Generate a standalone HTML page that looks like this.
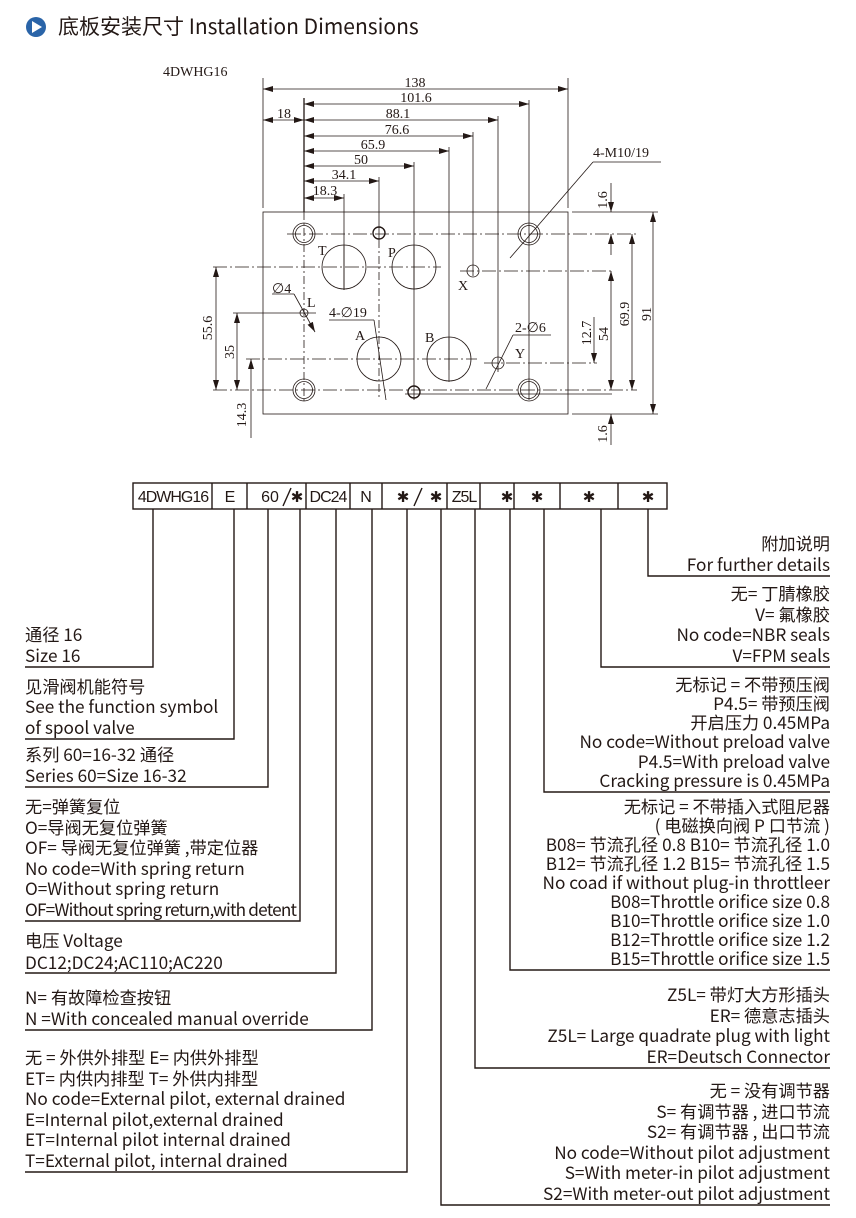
<!DOCTYPE html>
<html><head><meta charset="utf-8"><style>
body{margin:0;width:856px;height:1218px;background:#fff;position:relative;overflow:hidden;font-family:"Noto Sans CJK SC","Liberation Sans",sans-serif;color:#231815}
.b{position:absolute;font-size:17.2px;line-height:20.5px;white-space:nowrap}
.l{left:25px}
.r{right:26px;text-align:right}
svg{position:absolute;left:0;top:0}
</style></head><body>
<svg width="856" height="1218" viewBox="0 0 856 1218">
<defs>
<marker id="a" viewBox="0 0 10 6" refX="10" refY="3" markerWidth="10" markerHeight="6" orient="auto-start-reverse" markerUnits="userSpaceOnUse"><path d="M0,0 L10,3 L0,6 z" fill="#231815"/></marker>
</defs>
<circle cx="36" cy="27" r="10" fill="#2a64a8"/>
<path d="M32,21 L42,27 L32,33 z" fill="#fff"/>
<text x="58" y="34" font-size="21" font-family="Noto Sans CJK SC,Liberation Sans,sans-serif" fill="#231815">底板安装尺寸 Installation Dimensions</text>

<g font-family="Liberation Serif,serif" font-size="14" fill="#231815" stroke="none">
<text x="163" y="76">4DWHG16</text>
<text x="415" y="87" text-anchor="middle">138</text>
<text x="416" y="102" text-anchor="middle">101.6</text>
<text x="284" y="118" text-anchor="middle">18</text>
<text x="398" y="118" text-anchor="middle">88.1</text>
<text x="397" y="134" text-anchor="middle">76.6</text>
<text x="373" y="149" text-anchor="middle">65.9</text>
<text x="361" y="164" text-anchor="middle">50</text>
<text x="344" y="179" text-anchor="middle">34.1</text>
<text x="325" y="195" text-anchor="middle">18.3</text>
<text x="593" y="157">4-M10/19</text>
<text x="318" y="255">T</text>
<text x="388" y="257">P</text>
<text x="458" y="290">X</text>
<text x="272" y="293">∅4</text>
<text x="307" y="307">L</text>
<text x="329" y="317">4-∅19</text>
<text x="355" y="340">A</text>
<text x="425" y="342">B</text>
<text x="515" y="332">2-∅6</text>
<text x="515" y="358">Y</text>
<text transform="translate(212,328) rotate(-90)" text-anchor="middle">55.6</text>
<text transform="translate(234,352) rotate(-90)" text-anchor="middle">35</text>
<text transform="translate(246,415) rotate(-90)" text-anchor="middle">14.3</text>
<text transform="translate(607,200) rotate(-90)" text-anchor="middle">1.6</text>
<text transform="translate(591,333) rotate(-90)" text-anchor="middle">12.7</text>
<text transform="translate(608,334) rotate(-90)" text-anchor="middle">54</text>
<text transform="translate(629,314) rotate(-90)" text-anchor="middle">69.9</text>
<text transform="translate(651,314) rotate(-90)" text-anchor="middle">91</text>
<text transform="translate(607,434) rotate(-90)" text-anchor="middle">1.6</text>
</g>

<g stroke="#231815" stroke-width="0.8" fill="none">
<rect x="263" y="212" width="305" height="202"/>
<line x1="263" y1="78" x2="263" y2="208"/>
<line x1="568" y1="78" x2="568" y2="208"/>
<line x1="304" y1="98" x2="304" y2="212" stroke-width="1.3"/>
<line x1="263" y1="89" x2="568" y2="89" marker-start="url(#a)" marker-end="url(#a)"/>
<line x1="304" y1="104" x2="529" y2="104" marker-start="url(#a)" marker-end="url(#a)"/>
<line x1="263" y1="120" x2="304" y2="120" marker-start="url(#a)" marker-end="url(#a)"/>
<line x1="304" y1="120" x2="498" y2="120" marker-start="url(#a)" marker-end="url(#a)"/>
<line x1="304" y1="136" x2="473" y2="136" marker-start="url(#a)" marker-end="url(#a)"/>
<line x1="304" y1="151" x2="449" y2="151" marker-start="url(#a)" marker-end="url(#a)"/>
<line x1="304" y1="166" x2="414" y2="166" marker-start="url(#a)" marker-end="url(#a)"/>
<line x1="304" y1="181" x2="379" y2="181" marker-start="url(#a)" marker-end="url(#a)"/>
<line x1="304" y1="198" x2="344" y2="198" marker-start="url(#a)" marker-end="url(#a)"/>
<line x1="529" y1="100" x2="529" y2="400"/>
<line x1="498" y1="116" x2="498" y2="372"/>
<line x1="473" y1="132" x2="473" y2="276"/>
<line x1="449" y1="147" x2="449" y2="370"/>
<line x1="414" y1="162" x2="414" y2="400"/>
<line x1="379" y1="177" x2="379" y2="240"/>
<line x1="344" y1="194" x2="344" y2="290"/>
<line x1="304" y1="212" x2="304" y2="403" stroke-dasharray="8,3,2,3"/>
<line x1="379" y1="240" x2="379" y2="400" stroke-dasharray="8,3,2,3"/>
<line x1="287" y1="234" x2="637" y2="234" stroke-dasharray="14,3,2,3"/>
<line x1="213" y1="267" x2="441" y2="267" stroke-dasharray="14,3,2,3"/>
<line x1="460" y1="271" x2="612" y2="271" stroke-dasharray="14,3,2,3"/>
<line x1="233" y1="313" x2="316" y2="313"/>
<line x1="246" y1="359" x2="477" y2="359" stroke-dasharray="14,3,2,3"/>
<line x1="484" y1="363" x2="597" y2="363" stroke-dasharray="14,3,2,3"/>
<line x1="213" y1="390" x2="637" y2="390" stroke-dasharray="14,3,2,3"/>
<line x1="405" y1="394" x2="612" y2="394"/>
<line x1="572" y1="212" x2="658" y2="212"/>
<line x1="572" y1="414" x2="658" y2="414"/>
<circle cx="304" cy="234" r="11"/><circle cx="304" cy="234" r="8.5"/>
<circle cx="529" cy="234" r="11"/><circle cx="529" cy="234" r="8.5"/>
<circle cx="304" cy="390" r="11"/><circle cx="304" cy="390" r="8.5"/>
<circle cx="529" cy="390" r="11"/><circle cx="529" cy="390" r="8.5"/>
<circle cx="379" cy="233" r="6" stroke-width="1.4"/>
<circle cx="414" cy="392" r="6" stroke-width="1.4"/>
<circle cx="344" cy="267" r="22"/>
<circle cx="414" cy="267" r="22"/>
<circle cx="379" cy="359" r="22"/>
<circle cx="449" cy="359" r="22"/>
<circle cx="473" cy="271" r="6"/>
<circle cx="498" cy="363" r="6"/>
<circle cx="304" cy="313" r="4"/>
<line x1="344" y1="245" x2="344" y2="290"/>
<line x1="414" y1="245" x2="414" y2="290"/>
<line x1="449" y1="337" x2="449" y2="382"/>
<line x1="272" y1="294" x2="294" y2="294"/>
<line x1="294" y1="294" x2="315" y2="332" marker-end="url(#a)"/>
<line x1="329" y1="320" x2="374" y2="320"/>
<line x1="374" y1="320" x2="386" y2="400"/>
<line x1="513" y1="335" x2="551" y2="335"/>
<line x1="513" y1="335" x2="486" y2="389"/>
<line x1="593" y1="162" x2="661" y2="162"/>
<line x1="593" y1="162" x2="510" y2="258"/>
<line x1="653" y1="212" x2="653" y2="414" marker-start="url(#a)" marker-end="url(#a)"/>
<line x1="632" y1="234" x2="632" y2="390" marker-start="url(#a)" marker-end="url(#a)"/>
<line x1="611" y1="271" x2="611" y2="390" marker-start="url(#a)" marker-end="url(#a)"/>
<line x1="594" y1="317" x2="594" y2="363" marker-end="url(#a)"/>
<line x1="611" y1="183" x2="611" y2="212" marker-end="url(#a)"/>
<line x1="611" y1="255" x2="611" y2="234" marker-end="url(#a)"/>
<line x1="611" y1="445" x2="611" y2="414" marker-end="url(#a)"/>
<line x1="216" y1="267" x2="216" y2="390" marker-start="url(#a)" marker-end="url(#a)"/>
<line x1="237" y1="313" x2="237" y2="390" marker-start="url(#a)" marker-end="url(#a)"/>
<line x1="251" y1="438" x2="251" y2="359" marker-end="url(#a)"/>
</g>

<g stroke="#231815" stroke-width="1.4" fill="none">
<rect x="133" y="483" width="534" height="26"/>
<line x1="212" y1="483" x2="212" y2="509"/><line x1="247" y1="483" x2="247" y2="509"/>
<line x1="306" y1="483" x2="306" y2="509"/><line x1="350" y1="483" x2="350" y2="509"/>
<line x1="382" y1="483" x2="382" y2="509"/><line x1="447" y1="483" x2="447" y2="509"/>
<line x1="480" y1="483" x2="480" y2="509"/><line x1="514" y1="483" x2="514" y2="509"/>
<line x1="560" y1="483" x2="560" y2="509"/><line x1="618" y1="483" x2="618" y2="509"/>
<line x1="283" y1="506" x2="291" y2="488"/><line x1="414" y1="506" x2="422" y2="488"/>
<polyline points="153,509 153,667 25,667"/>
<polyline points="234,509 234,739 25,739"/>
<polyline points="268,509 268,787 25,787"/>
<polyline points="300,509 300,921 25,921"/>
<polyline points="336,509 336,973 25,973"/>
<polyline points="372,509 372,1030 25,1030"/>
<polyline points="407,509 407,1172 25,1172"/>
<polyline points="441,509 441,1205 830,1205"/>
<polyline points="475,509 475,1068 830,1068"/>
<polyline points="510,509 510,970 830,970"/>
<polyline points="544,509 544,792 830,792"/>
<polyline points="601,509 601,667 830,667"/>
<polyline points="648,509 648,576 830,576"/>
</g>
<g font-family="Liberation Sans,sans-serif" font-size="16" fill="#231815" text-anchor="middle">
<text x="173" y="502" letter-spacing="-1">4DWHG16</text>
<text x="230" y="502">E</text>
<text x="270" y="502">60</text>
<text x="328" y="502" letter-spacing="-1">DC24</text>
<text x="366" y="502">N</text>
<text x="464" y="502" letter-spacing="-1">Z5L</text>
</g>
<g font-family="DejaVu Sans,sans-serif" font-size="15" font-weight="bold" fill="#231815" text-anchor="middle">
<text x="297" y="502">✱</text>
<text x="403" y="502">✱</text><text x="436" y="502">✱</text>
<text x="507" y="502">✱</text>
<text x="537" y="502">✱</text>
<text x="589" y="502">✱</text>
<text x="648" y="502">✱</text>
</g>
</svg>

<div class="b l" style="bottom:553px">通径 16<br>Size 16</div>
<div class="b l" style="bottom:481px">见滑阀机能符号<br>See the function symbol<br>of spool valve</div>
<div class="b l" style="bottom:433px">系列 60=16-32 通径<br>Series 60=Size 16-32</div>
<div class="b l" style="bottom:299px">无=弹簧复位<br>O=导阀无复位弹簧<br>OF= 导阀无复位弹簧 ,带定位器<br>No code=With spring return<br>O=Without spring return<br><span style="letter-spacing:-0.8px">OF=Without spring return,with detent</span></div>
<div class="b l" style="bottom:245px;line-height:22px">电压 Voltage<br>DC12;DC24;AC110;AC220</div>
<div class="b l" style="bottom:190px">N= 有故障检查按钮<br>N =With concealed manual override</div>
<div class="b l" style="bottom:48px">无 = 外供外排型 E= 内供外排型<br>ET= 内供内排型 T= 外供内排型<br>No code=External pilot, external drained<br>E=Internal pilot,external drained<br>ET=Internal pilot internal drained<br>T=External pilot, internal drained</div>

<div class="b r" style="bottom:644px">附加说明<br>For further details</div>
<div class="b r" style="bottom:553px">无= 丁腈橡胶<br>V= 氟橡胶<br>No code=NBR seals<br>V=FPM seals</div>
<div class="b r" style="bottom:429px;line-height:19.2px">无标记 = 不带预压阀<br>P4.5= 带预压阀<br>开启压力 0.45MPa<br>No code=Without preload valve<br>P4.5=With preload valve<br>Cracking pressure is 0.45MPa</div>
<div class="b r" style="bottom:251px;line-height:19px">无标记 = 不带插入式阻尼器<br>( 电磁换向阀 P 口节流 )<br>B08= 节流孔径 0.8 B10= 节流孔径 1.0<br>B12= 节流孔径 1.2 B15= 节流孔径 1.5<br>No coad if without plug-in throttleer<br>B08=Throttle orifice size 0.8<br>B10=Throttle orifice size 1.0<br>B12=Throttle orifice size 1.2<br>B15=Throttle orifice size 1.5</div>
<div class="b r" style="bottom:152px">Z5L= 带灯大方形插头<br>ER= 德意志插头<br>Z5L= Large quadrate plug with light<br>ER=Deutsch Connector</div>
<div class="b r" style="bottom:15px">无 = 没有调节器<br>S= 有调节器 , 进口节流<br>S2= 有调节器 , 出口节流<br>No code=Without pilot adjustment<br>S=With meter-in pilot adjustment<br>S2=With meter-out pilot adjustment</div>
</body></html>
